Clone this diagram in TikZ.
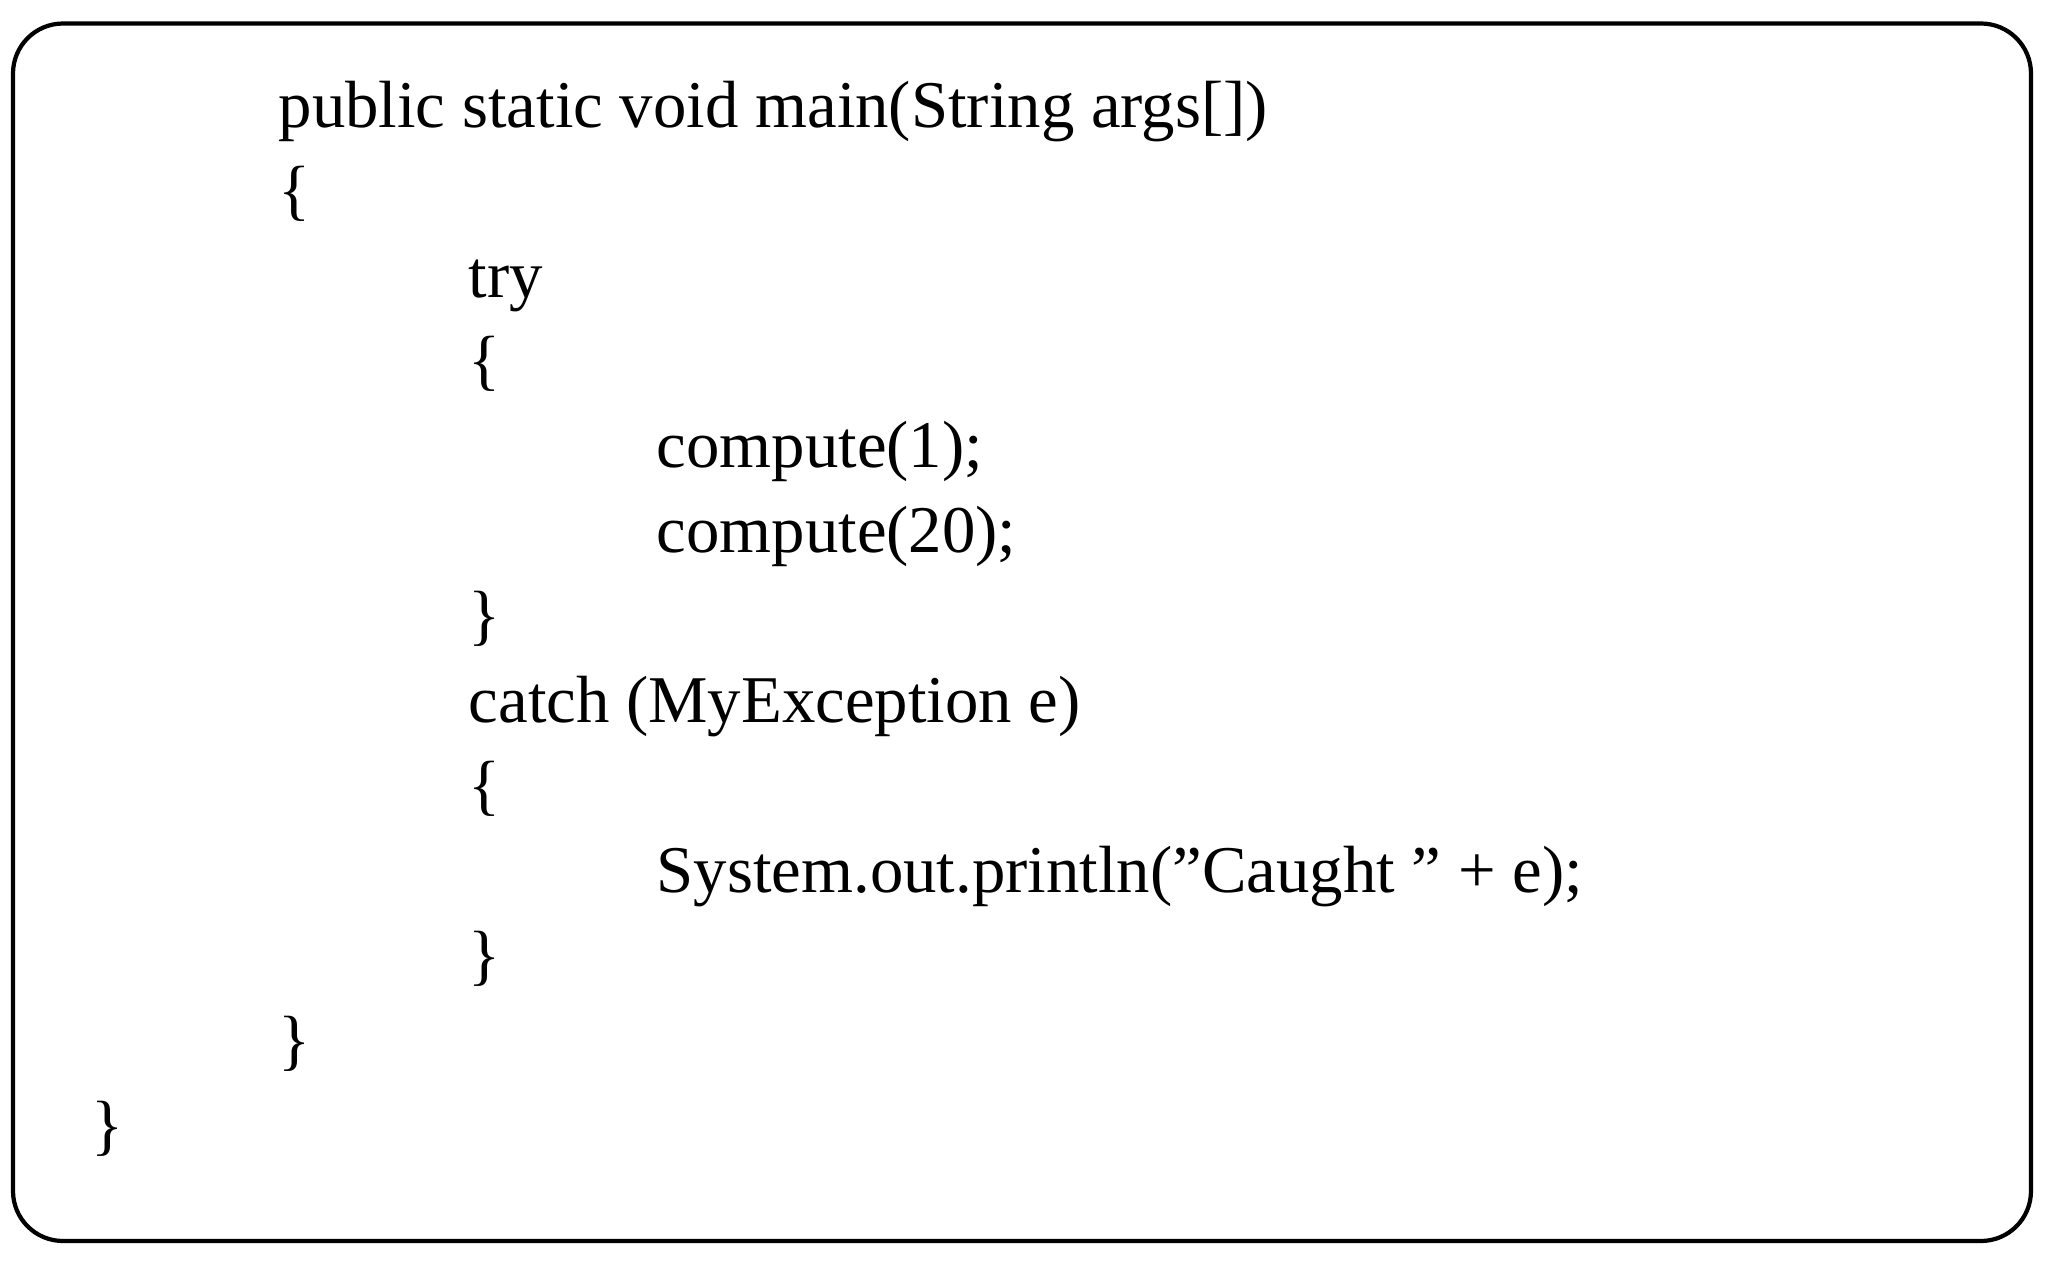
\documentclass[tikz,border=0pt]{standalone}
\usepackage{fontspec}
\setmainfont{Liberation Serif}
\usetikzlibrary{positioning}
\tikzset{
  codeline/.style={anchor=base west, inner sep=0pt, font=\fontsize{19}{23}\selectfont},
  frame/.style={draw=black, line width=1.2pt, rounded corners=0.5cm}
}

\begin{document}
\begin{tikzpicture}
      \useasboundingbox (0,0) rectangle (20.48,-12.70);
      \draw[frame] (0.13,-0.235) rectangle (20.31,-12.41);

      \node[codeline] (l1) at (2.78,-1.27) {public static void main(String args[])};
      \node[codeline] (l2) at (2.78,-2.12) {\{};
      \node[codeline] (l3) at (4.68,-2.97) {try};
      \node[codeline] (l4) at (4.68,-3.82) {\{};
      \node[codeline] (l5) at (6.56,-4.67) {compute(1);};
      \node[codeline] (l6) at (6.56,-5.52) {compute(20);};
      \node[codeline] (l7) at (4.68,-6.37) {\}};
      \node[codeline] (l8) at (4.68,-7.22) {catch (MyException e)};
      \node[codeline] (l9) at (4.68,-8.07) {\{};
      \node[codeline] (l10) at (6.56,-8.92) {System.out.println("Caught " + e);};
      \node[codeline] (l11) at (4.68,-9.77) {\}};
      \node[codeline] (l12) at (2.78,-10.62) {\}};
      \node[codeline] (l13) at (0.91,-11.47) {\}};
    \end{tikzpicture}
\end{document}
